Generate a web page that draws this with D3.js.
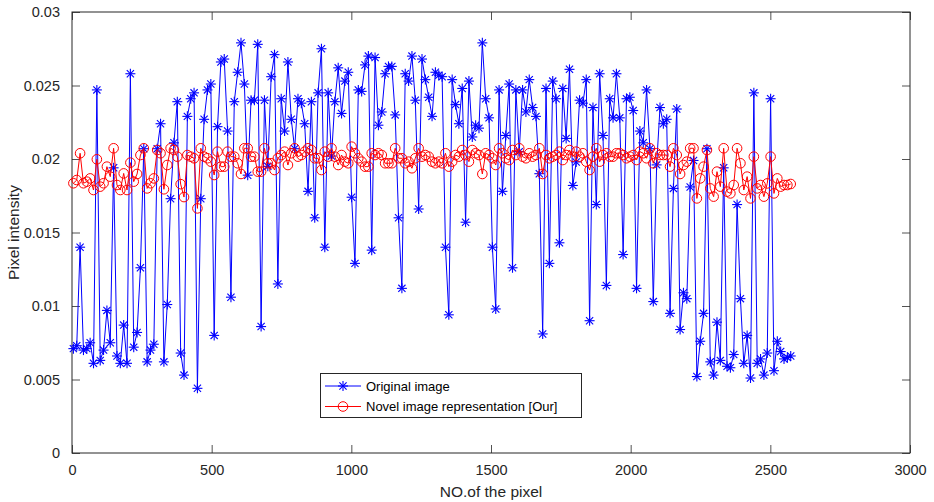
<!DOCTYPE html>
<html><head><meta charset="utf-8">
<script src="https://cdn.jsdelivr.net/npm/d3@7"></script>
<style>body{margin:0;background:#fff;}svg{display:block;font-family:"Liberation Sans",Arial,Helvetica,sans-serif;}</style>
</head><body><svg id="c" width="934" height="502"></svg>
<script>
// ---- data ----
const xTicks = [0, 500, 1000, 1500, 2000, 2500, 3000];
const yTicks = [0, 0.005, 0.01, 0.015, 0.02, 0.025, 0.03];
const yTickLabels = ["0", "0.005", "0.01", "0.015", "0.02", "0.025", "0.03"];
const seriesNames = ["Original image", "Novel image representation [Our]"];
const firstPixel = 5, pixelStep = 12;
const original = [
0.0071,0.0073,0.0140,0.0070,0.0071,0.0075,0.0061,0.0247,0.0063,0.0070,0.0097,0.0075,0.0194,0.0066,0.0061,0.0087,0.0061,0.0258,0.0072,0.0082,0.0126,0.0207,0.0062,0.0070,0.0074,0.0207,
0.0224,0.0062,0.0101,0.0173,0.0211,0.0239,0.0068,0.0053,0.0229,0.0241,0.0245,0.0044,0.0173,0.0227,0.0247,0.0251,0.0080,0.0222,0.0266,0.0268,0.0219,0.0106,0.0239,0.0259,0.0279,0.0251,
0.0189,0.0240,0.0240,0.0278,0.0086,0.0240,0.0195,0.0256,0.0271,0.0115,0.0241,0.0219,0.0266,0.0227,0.0207,0.0241,0.0238,0.0224,0.0178,0.0239,0.0160,0.0245,0.0275,0.0140,0.0245,0.0202,0.0239,0.0262,
0.0231,0.0253,0.0259,0.0174,0.0129,0.0247,0.0246,0.0264,0.0270,0.0138,0.0269,0.0223,0.0232,0.0258,0.0263,0.0263,0.0230,0.0160,0.0112,0.0258,0.0253,0.0270,0.0240,0.0166,0.0268,0.0254,
0.0242,0.0229,0.0259,0.0257,0.0256,0.0140,0.0094,0.0254,0.0237,0.0224,0.0248,0.0157,0.0253,0.0215,0.0223,0.0221,0.0279,0.0241,0.0228,0.0140,0.0098,0.0247,0.0178,0.0216,0.0251,0.0126,0.0247,
0.0205,0.0247,0.0232,0.0254,0.0235,0.0229,0.0190,0.0081,0.0248,0.0129,0.0253,0.0241,0.0143,0.0248,0.0214,0.0261,0.0182,0.0198,0.0240,0.0238,0.0254,0.0090,0.0235,0.0169,0.0258,0.0216,0.0114,0.0241,
0.0228,0.0258,0.0228,0.0135,0.0241,0.0242,0.0233,0.0112,0.0219,0.0211,0.0247,0.0207,0.0103,0.0196,0.0235,0.0224,0.0227,0.0095,0.0180,0.0234,0.0084,0.0109,0.0105,0.0181,0.0199,0.0052,0.0076,
0.0095,0.0207,0.0062,0.0053,0.0089,0.0063,0.0194,0.0059,0.0058,0.0067,0.0169,0.0105,0.0061,0.0080,0.0051,0.0245,0.0061,0.0064,0.0053,0.0068,0.0241,0.0056,0.0076,0.0069,0.0064,0.0065,0.0066
];
const novel = [
0.01835,0.01857,0.02039,0.01835,0.01846,0.01868,0.01789,0.01998,0.01812,0.01835,0.01948,0.01880,0.02073,0.01823,0.01789,0.01902,0.01789,0.01975,0.01846,0.01898,0.02027,0.02073,0.01800,0.01835,0.01868,0.02061,
0.02039,0.01794,0.01959,0.02073,0.02061,0.02016,0.01829,0.01741,0.02027,0.02016,0.02005,0.01664,0.02073,0.02016,0.02005,0.01982,0.01891,0.02050,0.01948,0.01948,0.02050,0.02016,0.02016,0.01971,0.01898,0.02073,
0.02073,0.02016,0.02016,0.01914,0.01914,0.02073,0.01971,0.01971,0.01925,0.02005,0.02027,0.02050,0.01959,0.02039,0.02073,0.02016,0.02027,0.02050,0.02073,0.02061,0.02005,0.02005,0.01925,0.02050,0.02016,0.02073,0.02016,0.01959,
0.02027,0.01982,0.01971,0.02084,0.02039,0.02005,0.01982,0.01948,0.01948,0.02039,0.02027,0.02039,0.02027,0.01971,0.01971,0.01971,0.02073,0.02005,0.02005,0.01971,0.01982,0.01937,0.02005,0.02073,0.02016,0.02027,
0.02016,0.01982,0.01971,0.01982,0.01971,0.02039,0.01948,0.01982,0.02027,0.02016,0.02061,0.02027,0.01982,0.02061,0.02039,0.02027,0.01898,0.02039,0.02027,0.02005,0.01959,0.02073,0.02039,0.02005,0.01993,0.02061,0.02027,
0.02073,0.02016,0.02005,0.02039,0.02016,0.02027,0.02073,0.01898,0.02027,0.02005,0.02016,0.02027,0.02050,0.01993,0.02027,0.02061,0.02016,0.02050,0.02016,0.02039,0.01982,0.01925,0.02016,0.02073,0.01982,0.02027,0.02039,0.02016,
0.02016,0.02039,0.02039,0.02027,0.02005,0.02016,0.02027,0.01993,0.02050,0.02039,0.02005,0.02073,0.01971,0.02039,0.02027,0.02027,0.02027,0.01948,0.02073,0.02027,0.01898,0.01959,0.01982,0.02073,0.02073,0.01732,0.01868,
0.01948,0.02061,0.01800,0.01744,0.01914,0.01812,0.02073,0.01778,0.01766,0.01823,0.02073,0.01971,0.01789,0.01880,0.01732,0.02016,0.01800,0.01823,0.01744,0.01834,0.02016,0.01766,0.01868,0.01812,0.01823,0.01823,0.01830
];
const pixelNo = original.map((_, i) => firstPixel + i * pixelStep);

// ---- layout ----
const svg = d3.select("#c");
const L = 72, R = 910, T = 12, B = 453;
const x = d3.scaleLinear().domain([0, 3000]).range([L, R]);
const y = d3.scaleLinear().domain([0, 0.03]).range([B, T]);
const tickLen = 8;

const gx = svg.append("g").attr("transform", `translate(0,${B})`)
  .call(d3.axisBottom(x).tickValues(xTicks).tickSizeInner(-tickLen).tickSizeOuter(0).tickPadding(12).tickFormat(d3.format("d")));
const gy = svg.append("g").attr("transform", `translate(${L},0)`)
  .call(d3.axisLeft(y).tickValues(yTicks).tickSizeInner(-tickLen).tickSizeOuter(0).tickPadding(12).tickFormat((d, i) => yTickLabels[i]));
const gx2 = svg.append("g").attr("transform", `translate(0,${T})`)
  .call(d3.axisTop(x).tickValues(xTicks).tickSizeInner(-tickLen).tickSizeOuter(0).tickFormat(""));
const gy2 = svg.append("g").attr("transform", `translate(${R},0)`)
  .call(d3.axisRight(y).tickValues(yTicks).tickSizeInner(-tickLen).tickSizeOuter(0).tickFormat(""));
[gx, gy, gx2, gy2].forEach(g => {
  g.select(".domain").remove();
  g.selectAll("line").attr("stroke", "#262626").attr("stroke-width", 0.8);
  g.selectAll("text").attr("fill", "#262626").style("font-size", "14.5px").style("font-family", "'Liberation Sans', Arial, sans-serif");
});
svg.append("rect").attr("x", L).attr("y", T).attr("width", R - L).attr("height", B - T)
  .attr("fill", "none").attr("stroke", "#262626").attr("stroke-width", 1);

svg.append("text").attr("x", (L + R) / 2).attr("y", 497).attr("text-anchor", "middle")
  .style("font-size", "15.5px").attr("fill", "#262626").text("NO.of the pixel");
svg.append("text").attr("transform", `translate(19,${(T + B) / 2}) rotate(-90)`).attr("text-anchor", "middle")
  .style("font-size", "15.5px").attr("fill", "#262626").text("Pixel intensity");

const r = 5;
function star(sel, cx, cy, color) {
  const g = sel.append("g").attr("transform", `translate(${cx},${cy})`).attr("stroke", color).attr("stroke-width", 1.1);
  g.append("line").attr("x1", -r).attr("x2", r).attr("y1", 0).attr("y2", 0);
  g.append("line").attr("x1", 0).attr("x2", 0).attr("y1", -r).attr("y2", r);
  const d = r * 0.72;
  g.append("line").attr("x1", -d).attr("x2", d).attr("y1", -d).attr("y2", d);
  g.append("line").attr("x1", -d).attr("x2", d).attr("y1", d).attr("y2", -d);
}

const line = d3.line().x(d => x(d[0])).y(d => y(d[1]));
const blueData = pixelNo.map((p, i) => [p, original[i]]);
const redData = pixelNo.map((p, i) => [p, novel[i]]);

const plot = svg.append("g");
plot.append("path").datum(blueData).attr("d", line).attr("fill", "none").attr("stroke", "#0000ff").attr("stroke-width", 1);
const bm = plot.append("g");
blueData.forEach(d => star(bm, x(d[0]), y(d[1]), "#0000ff"));

plot.append("path").datum(redData).attr("d", line).attr("fill", "none").attr("stroke", "#ff0000").attr("stroke-width", 1);
plot.append("g").selectAll("circle").data(redData).join("circle")
  .attr("cx", d => x(d[0])).attr("cy", d => y(d[1])).attr("r", 4.8)
  .attr("fill", "none").attr("stroke", "#ff0000").attr("stroke-width", 1);

const lg = svg.append("g");
lg.append("rect").attr("x", 320.5).attr("y", 373.5).attr("width", 261).attr("height", 44)
  .attr("fill", "#fff").attr("stroke", "#262626").attr("stroke-width", 1);
const items = [{name: seriesNames[0], color: "#0000ff", type: "star", yy: 386},
               {name: seriesNames[1], color: "#ff0000", type: "circle", yy: 406.5}];
items.forEach(it => {
  lg.append("line").attr("x1", 325).attr("x2", 361).attr("y1", it.yy).attr("y2", it.yy).attr("stroke", it.color).attr("stroke-width", 1);
  if (it.type === "star") star(lg, 343, it.yy, it.color);
  else lg.append("circle").attr("cx", 343).attr("cy", it.yy).attr("r", 4.8).attr("fill", "none").attr("stroke", it.color);
  lg.append("text").attr("x", 366).attr("y", it.yy + 4.5).style("font-size", "13px").attr("fill", "#000").text(it.name);
});
</script></body></html>
